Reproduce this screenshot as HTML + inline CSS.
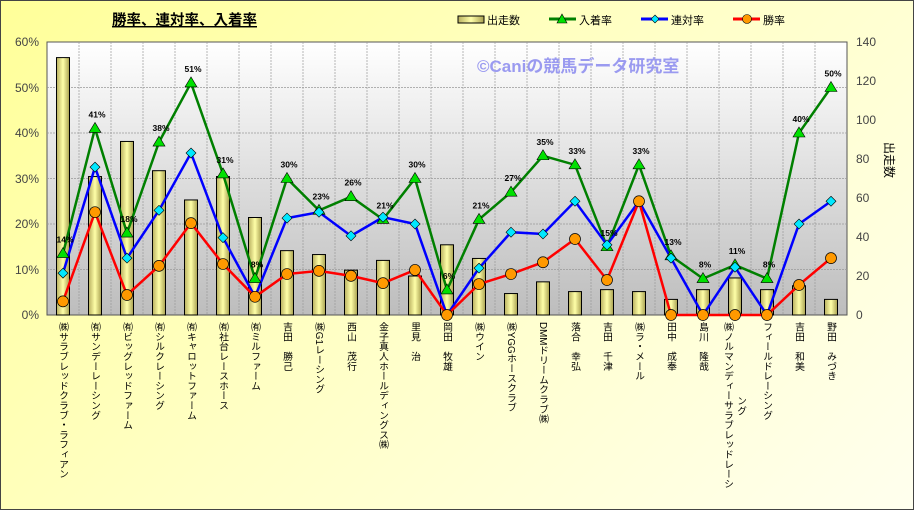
<!DOCTYPE html>
<html><head><meta charset="utf-8">
<style>
body{margin:0;width:914px;height:510px;overflow:hidden;font-family:"Liberation Sans","Noto Sans CJK JP",sans-serif;}
#wrap{position:absolute;left:0;top:0;width:912px;height:508px;border:1px solid #444;background:linear-gradient(135deg,#ffff99 0%,#ffffc8 50%,#ffffee 100%);}
.xl{position:absolute;top:322px;writing-mode:vertical-rl;font-size:9.8px;line-height:11px;color:#000;white-space:nowrap;font-family:"Liberation Sans","Noto Sans CJK JP",sans-serif;}
</style></head><body>
<div id="wrap"></div>
<svg id="s" width="914" height="510" style="position:absolute;left:0;top:0" xmlns="http://www.w3.org/2000/svg">
<defs>
<linearGradient id="pg" x1="0" y1="0" x2="0" y2="1"><stop offset="0" stop-color="#ffffff"/><stop offset="1" stop-color="#bdbdbd"/></linearGradient>
<linearGradient id="bg" x1="0" y1="0" x2="1" y2="0"><stop offset="0" stop-color="#b8b060"/><stop offset="0.5" stop-color="#ffffa8"/><stop offset="1" stop-color="#a8a050"/></linearGradient>
</defs>
<rect x="47" y="42" width="800" height="273" fill="url(#pg)" stroke="#555" stroke-width="1"/>
<g id="grid"></g><g id="bars"></g><g id="lines"></g><g id="lbl" font-size="8.5" font-weight="bold" text-anchor="middle" fill="#000"></g>
<g font-size="12" fill="#444" text-anchor="end">
<text x="39" y="46">60%</text><text x="39" y="92">50%</text><text x="39" y="137">40%</text><text x="39" y="183">30%</text><text x="39" y="228">20%</text><text x="39" y="274">10%</text><text x="39" y="319">0%</text>
</g>
<g font-size="12" fill="#444" text-anchor="start">
<text x="856" y="46">140</text><text x="856" y="85">120</text><text x="856" y="124">100</text><text x="856" y="163">80</text><text x="856" y="202">60</text><text x="856" y="241">40</text><text x="856" y="280">20</text><text x="856" y="319">0</text>
</g>
<text x="0" y="0" font-size="12" fill="#000" transform="translate(885,160) rotate(90)" text-anchor="middle">出走数</text>
<text x="112" y="25" font-size="14.5" font-weight="bold" fill="#000" text-decoration="underline">勝率、連対率、入着率</text>
<text x="477" y="72" font-size="17" font-weight="bold" fill="#9a9af0">©Caniの競馬データ研究室</text>
<g font-size="11" fill="#000">
<rect x="458" y="16" width="26" height="7" fill="url(#bg)" stroke="#000"/><text x="487" y="24">出走数</text>
<line x1="549" y1="19" x2="576" y2="19" stroke="#008000" stroke-width="3"/><polygon points="562,14 567,23 557,23" fill="#00e000" stroke="#000" stroke-width="0.6"/><text x="579" y="24">入着率</text>
<line x1="641" y1="19" x2="668" y2="19" stroke="#0000ff" stroke-width="3"/><polygon points="655,15 659,19 655,23 651,19" fill="#00e8ff" stroke="#000" stroke-width="0.6"/><text x="671" y="24">連対率</text>
<line x1="733" y1="19" x2="760" y2="19" stroke="#ff0000" stroke-width="3"/><circle cx="747" cy="19" r="4.5" fill="#ff9900" stroke="#000" stroke-width="0.6"/><text x="763" y="24">勝率</text>
</g>
</svg>
<div class="xl" style="left:57px">㈱サラブレッドクラブ・ラフィアン</div>
<div class="xl" style="left:89px">㈲サンデーレーシング</div>
<div class="xl" style="left:121px">㈲ビッグレッドファーム</div>
<div class="xl" style="left:153px">㈲シルクレーシング</div>
<div class="xl" style="left:185px">㈲キャロットファーム</div>
<div class="xl" style="left:217px">㈲社台レースホース</div>
<div class="xl" style="left:249px">㈲ミルファーム</div>
<div class="xl" style="left:281px">吉田　勝己</div>
<div class="xl" style="left:313px">㈱G1レーシング</div>
<div class="xl" style="left:345px">西山　茂行</div>
<div class="xl" style="left:377px">金子真人ホールディングス㈱</div>
<div class="xl" style="left:409px">里見　治</div>
<div class="xl" style="left:441px">岡田　牧雄</div>
<div class="xl" style="left:473px">㈱ウイン</div>
<div class="xl" style="left:505px">㈱YGGホースクラブ</div>
<div class="xl" style="left:537px">DMMドリームクラブ㈱</div>
<div class="xl" style="left:569px">落合　幸弘</div>
<div class="xl" style="left:601px">吉田　千津</div>
<div class="xl" style="left:633px">㈱ラ・メール</div>
<div class="xl" style="left:665px">田中　成奉</div>
<div class="xl" style="left:697px">島川　隆哉</div>
<div class="xl" style="left:722px">㈱ノルマンディーサラブレッドレーシ</div>
<div class="xl" style="left:735px;top:396px">ング</div>
<div class="xl" style="left:761px">フィールドレーシング</div>
<div class="xl" style="left:793px">吉田　和美</div>
<div class="xl" style="left:825px">野田　みづき</div>
<script>
var NS="http://www.w3.org/2000/svg";
function el(p,t,a){var e=document.createElementNS(NS,t);for(var k in a)e.setAttribute(k,a[k]);document.getElementById(p).appendChild(e);return e;}
var cnt=[132,71,89,74,59,71,50,33,31,23,28,20,36,29,11,17,12,13,12,8,13,19,13,15,8];
var g=[13.5,41,18,38,51,31,8,30,23,26,21,30,5.5,21,27,35,33,15,33,13,8,11,8,40,50];
var b=[9.2,32.5,12.5,23,35.6,17,4,21.3,22.6,17.4,21.5,20,0,10.3,18.2,17.8,25,15.4,25,12.5,0,10.5,0,20,25];
var r=[3,22.6,4.4,10.8,20.2,11.2,4,9,9.7,8.6,7,9.9,0,6.8,9,11.6,16.7,7.7,25,0,0,0,0,6.6,12.5];
var lab=["14%","41%","18%","38%","51%","31%","8%","30%","23%","26%","21%","30%","6%","21%","27%","35%","33%","15%","33%","13%","8%","11%","8%","40%","50%"];
for(var i=1;i<25;i++){var x=47+32*i;el("grid","line",{x1:x,y1:42,x2:x,y2:315,stroke:"#999","stroke-dasharray":"2,1","stroke-width":0.7});}
for(var j=1;j<6;j++){var y=315-j*45.5;el("grid","line",{x1:47,y1:y,x2:847,y2:y,stroke:"#999","stroke-dasharray":"2,1","stroke-width":0.7});}
function X(i){return 63+32*i;}function Y(v){return 315-v*4.55;}
for(var i=0;i<25;i++){var h=cnt[i]*1.95;el("bars","rect",{x:X(i)-6.5,y:315-h,width:13,height:h,fill:"url(#bg)",stroke:"#000","stroke-width":1});}
function line(arr,c){var p=arr.map(function(v,i){return X(i)+","+Y(v)}).join(" ");el("lines","polyline",{points:p,fill:"none",stroke:c,"stroke-width":2.5});}
line(g,"#008000");line(b,"#0000ff");line(r,"#ff0000");
for(var i=0;i<25;i++){var x=X(i),y=Y(g[i]);el("lines","polygon",{points:x+","+(y-6)+" "+(x+6)+","+(y+4)+" "+(x-6)+","+(y+4),fill:"#00e000",stroke:"#000","stroke-width":0.6});}
for(var i=0;i<25;i++){var x=X(i),y=Y(b[i]);el("lines","polygon",{points:x+","+(y-5)+" "+(x+5)+","+y+" "+x+","+(y+5)+" "+(x-5)+","+y,fill:"#00e8ff",stroke:"#000","stroke-width":0.6});}
for(var i=0;i<25;i++){el("lines","circle",{cx:X(i),cy:Y(r[i]),r:5.5,fill:"#ff9900",stroke:"#000","stroke-width":0.7});}
for(var i=0;i<25;i++){var t=el("lbl","text",{x:X(i)+2,y:Y(g[i])-11});t.textContent=lab[i];}
</script>
</body></html>
